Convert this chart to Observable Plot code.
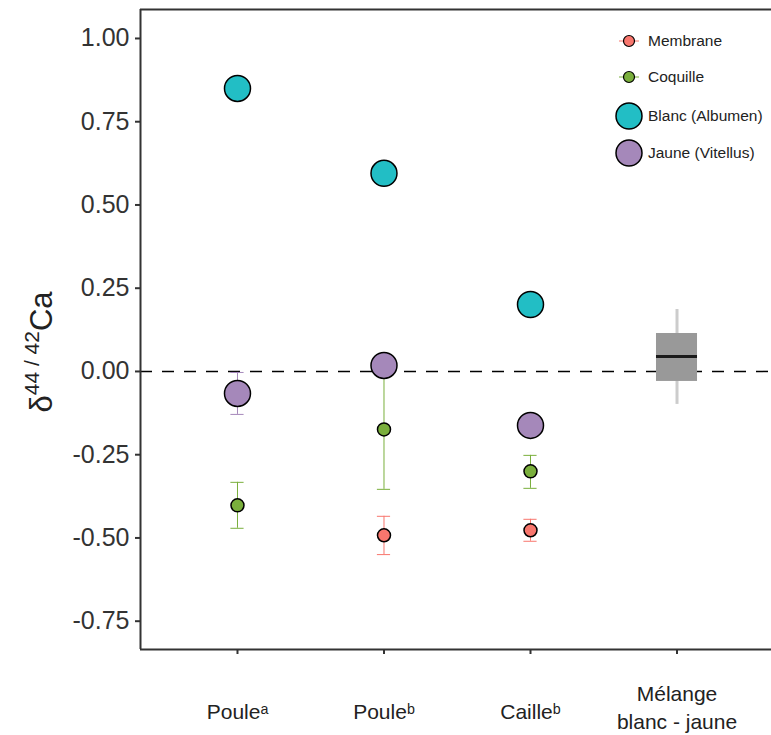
<!DOCTYPE html>
<html>
<head>
<meta charset="utf-8">
<script src="https://cdn.jsdelivr.net/npm/d3@7"></script>
<script src="https://cdn.jsdelivr.net/npm/@observablehq/plot@0.6"></script>
<style>
  html, body { margin: 0; padding: 0; background: #fff; }
  #chart svg { display: block; }
</style>
</head>
<body>
<div id="chart"></div>
<script>
// ---- Data ----
const categories = ["Pouleᵃ", "Pouleᵇ", "Cailleᵇ", "Mélange\nblanc - jaune"];
const series = ["Membrane", "Coquille", "Blanc (Albumen)", "Jaune (Vitellus)"];
const seriesColors = ["#F8766D", "#7AAF3C", "#22BEC5", "#A588BA"];

const membrane   = [null, -0.492, -0.477, null];
const membraneLo = [null, -0.550, -0.510, null];
const membraneHi = [null, -0.435, -0.444, null];

const coquille   = [-0.402, -0.174, -0.300, null];
const coquilleLo = [-0.471, -0.354, -0.351, null];
const coquilleHi = [-0.333,  0.006, -0.252, null];

const blanc      = [0.850, 0.595, 0.201, null];
const blancLo    = [null, null, null, null];
const blancHi    = [null, null, null, null];

const jaune      = [-0.066, 0.018, -0.162, null];
const jauneLo    = [-0.129, null, null, null];
const jauneHi    = [-0.003, null, null, null];

// Box plot summary for "Mélange blanc - jaune"
const boxMin = [-0.099];
const boxQ1 = [-0.030];
const boxMedian = [0.045];
const boxQ3 = [0.114];
const boxMax = [0.186];

const yTicks = [1.00, 0.75, 0.50, 0.25, 0.00, -0.25, -0.50, -0.75];

// ---- Build tables ----
const values = [membrane, coquille, blanc, jaune];
const lows = [membraneLo, coquilleLo, blancLo, jauneLo];
const highs = [membraneHi, coquilleHi, blancHi, jauneHi];
const radii = [6.5, 6.5, 13, 13];

const rows = [];
series.forEach((s, k) => {
  values[k].forEach((v, i) => {
    if (v != null) rows.push({series: s, i, v, lo: lows[k][i], hi: highs[k][i], color: seriesColors[k], r: radii[k]});
  });
});
const errRows = rows.filter(d => d.lo != null);
const boxIndex = 3;
const box = [{i: boxIndex, min: boxMin[0], q1: boxQ1[0], med: boxMedian[0], q3: boxQ3[0], max: boxMax[0]}];
const labels = categories.map((c, i) => ({label: c, i, multi: c.includes("\n")}));

const capHalf = 0.045;
const boxHalf = 0.14;
const font = "'Liberation Sans', 'DejaVu Sans', sans-serif";

const plot = Plot.plot({
  width: 771,
  height: 735,
  marginLeft: 140,
  marginRight: 0,
  marginTop: 9,
  marginBottom: 86,
  style: {fontFamily: font, background: "#fff", color: "#333"},
  x: {domain: [-0.662, 3.645], axis: null, label: null},
  y: {domain: [-0.835, 1.087], axis: null, label: null},
  r: {type: "identity"},
  color: {type: "identity"},
  marks: [
    Plot.ruleY([0], {stroke: "#000", strokeWidth: 1.5, strokeDasharray: "12,10"}),
    // box plot
    Plot.ruleX(box, {x: "i", y1: "min", y2: "max", stroke: "#cccccc", strokeWidth: 3}),
    Plot.rect(box, {x1: d => d.i - boxHalf, x2: d => d.i + boxHalf, y1: "q1", y2: "q3", fill: "#999999"}),
    Plot.ruleY(box, {y: "med", x1: d => d.i - boxHalf, x2: d => d.i + boxHalf, stroke: "#1a1a1a", strokeWidth: 3}),
    // error bars
    Plot.ruleX(errRows, {x: "i", y1: "lo", y2: "hi", stroke: "color", strokeWidth: 1}),
    Plot.ruleY(errRows, {y: "lo", x1: d => d.i - capHalf, x2: d => d.i + capHalf, stroke: "color", strokeWidth: 1}),
    Plot.ruleY(errRows, {y: "hi", x1: d => d.i - capHalf, x2: d => d.i + capHalf, stroke: "color", strokeWidth: 1}),
    // points
    Plot.dot(rows, {x: "i", y: "v", r: "r", fill: "color", stroke: "#000", strokeWidth: 1.5}),
    // axes
    Plot.axisY({ticks: yTicks, tickFormat: d => d.toFixed(2), fontSize: 25, tickSize: 5, tickPadding: 6, strokeWidth: 2, color: "#333", label: null}),
    Plot.axisX({ticks: [0, 1, 2, 3], tickFormat: () => "", tickSize: 5, strokeWidth: 2, color: "#333", label: null}),
    // panel border (left, bottom, top)
    Plot.ruleX([-0.662], {stroke: "#333", strokeWidth: 2}),
    Plot.ruleY([-0.835], {stroke: "#333", strokeWidth: 2}),
    Plot.ruleY([1.087], {stroke: "#333", strokeWidth: 2}),
    // x labels
    Plot.text(labels.filter(d => !d.multi), {x: "i", text: "label", frameAnchor: "bottom", dy: 63, lineAnchor: "middle", fontSize: 21, fill: "#222"}),
    Plot.text(labels.filter(d => d.multi), {x: "i", text: "label", frameAnchor: "bottom", dy: 57, lineAnchor: "middle", fontSize: 21, lineHeight: 1.33, fill: "#222"})
  ]
});

document.getElementById("chart").appendChild(plot);

// ---- Y axis title with superscript ----
const svg = d3.select(plot);
const yt = svg.append("text")
  .attr("transform", "translate(52,352) rotate(-90)")
  .attr("text-anchor", "middle")
  .attr("fill", "#222")
  .attr("font-family", font)
  .attr("font-size", 31);
yt.append("tspan").text("δ");
yt.append("tspan").attr("dy", -13).attr("font-size", 21).text("44 / 42");
yt.append("tspan").attr("dy", 13).text("Ca");

// ---- Legend ----
const legendY = [41, 77, 116, 153];
const lg = svg.append("g").attr("font-family", font);
series.forEach((s, k) => {
  const g = lg.append("g").attr("transform", `translate(629,${legendY[k]})`);
  if (k < 2) {
    g.append("line").attr("x1", -10).attr("x2", 10).attr("stroke", seriesColors[k]).attr("stroke-width", 1);
    g.append("circle").attr("r", 5.5).attr("fill", seriesColors[k]).attr("stroke", "#000").attr("stroke-width", 1.2);
  } else {
    g.append("circle").attr("r", 13).attr("fill", seriesColors[k]).attr("stroke", "#000").attr("stroke-width", 1.5);
  }
  g.append("text").attr("x", 19).attr("dy", "0.35em").attr("text-anchor", "start")
    .attr("fill", "#222").attr("font-size", 15.5).text(s);
});
</script>
</body>
</html>
